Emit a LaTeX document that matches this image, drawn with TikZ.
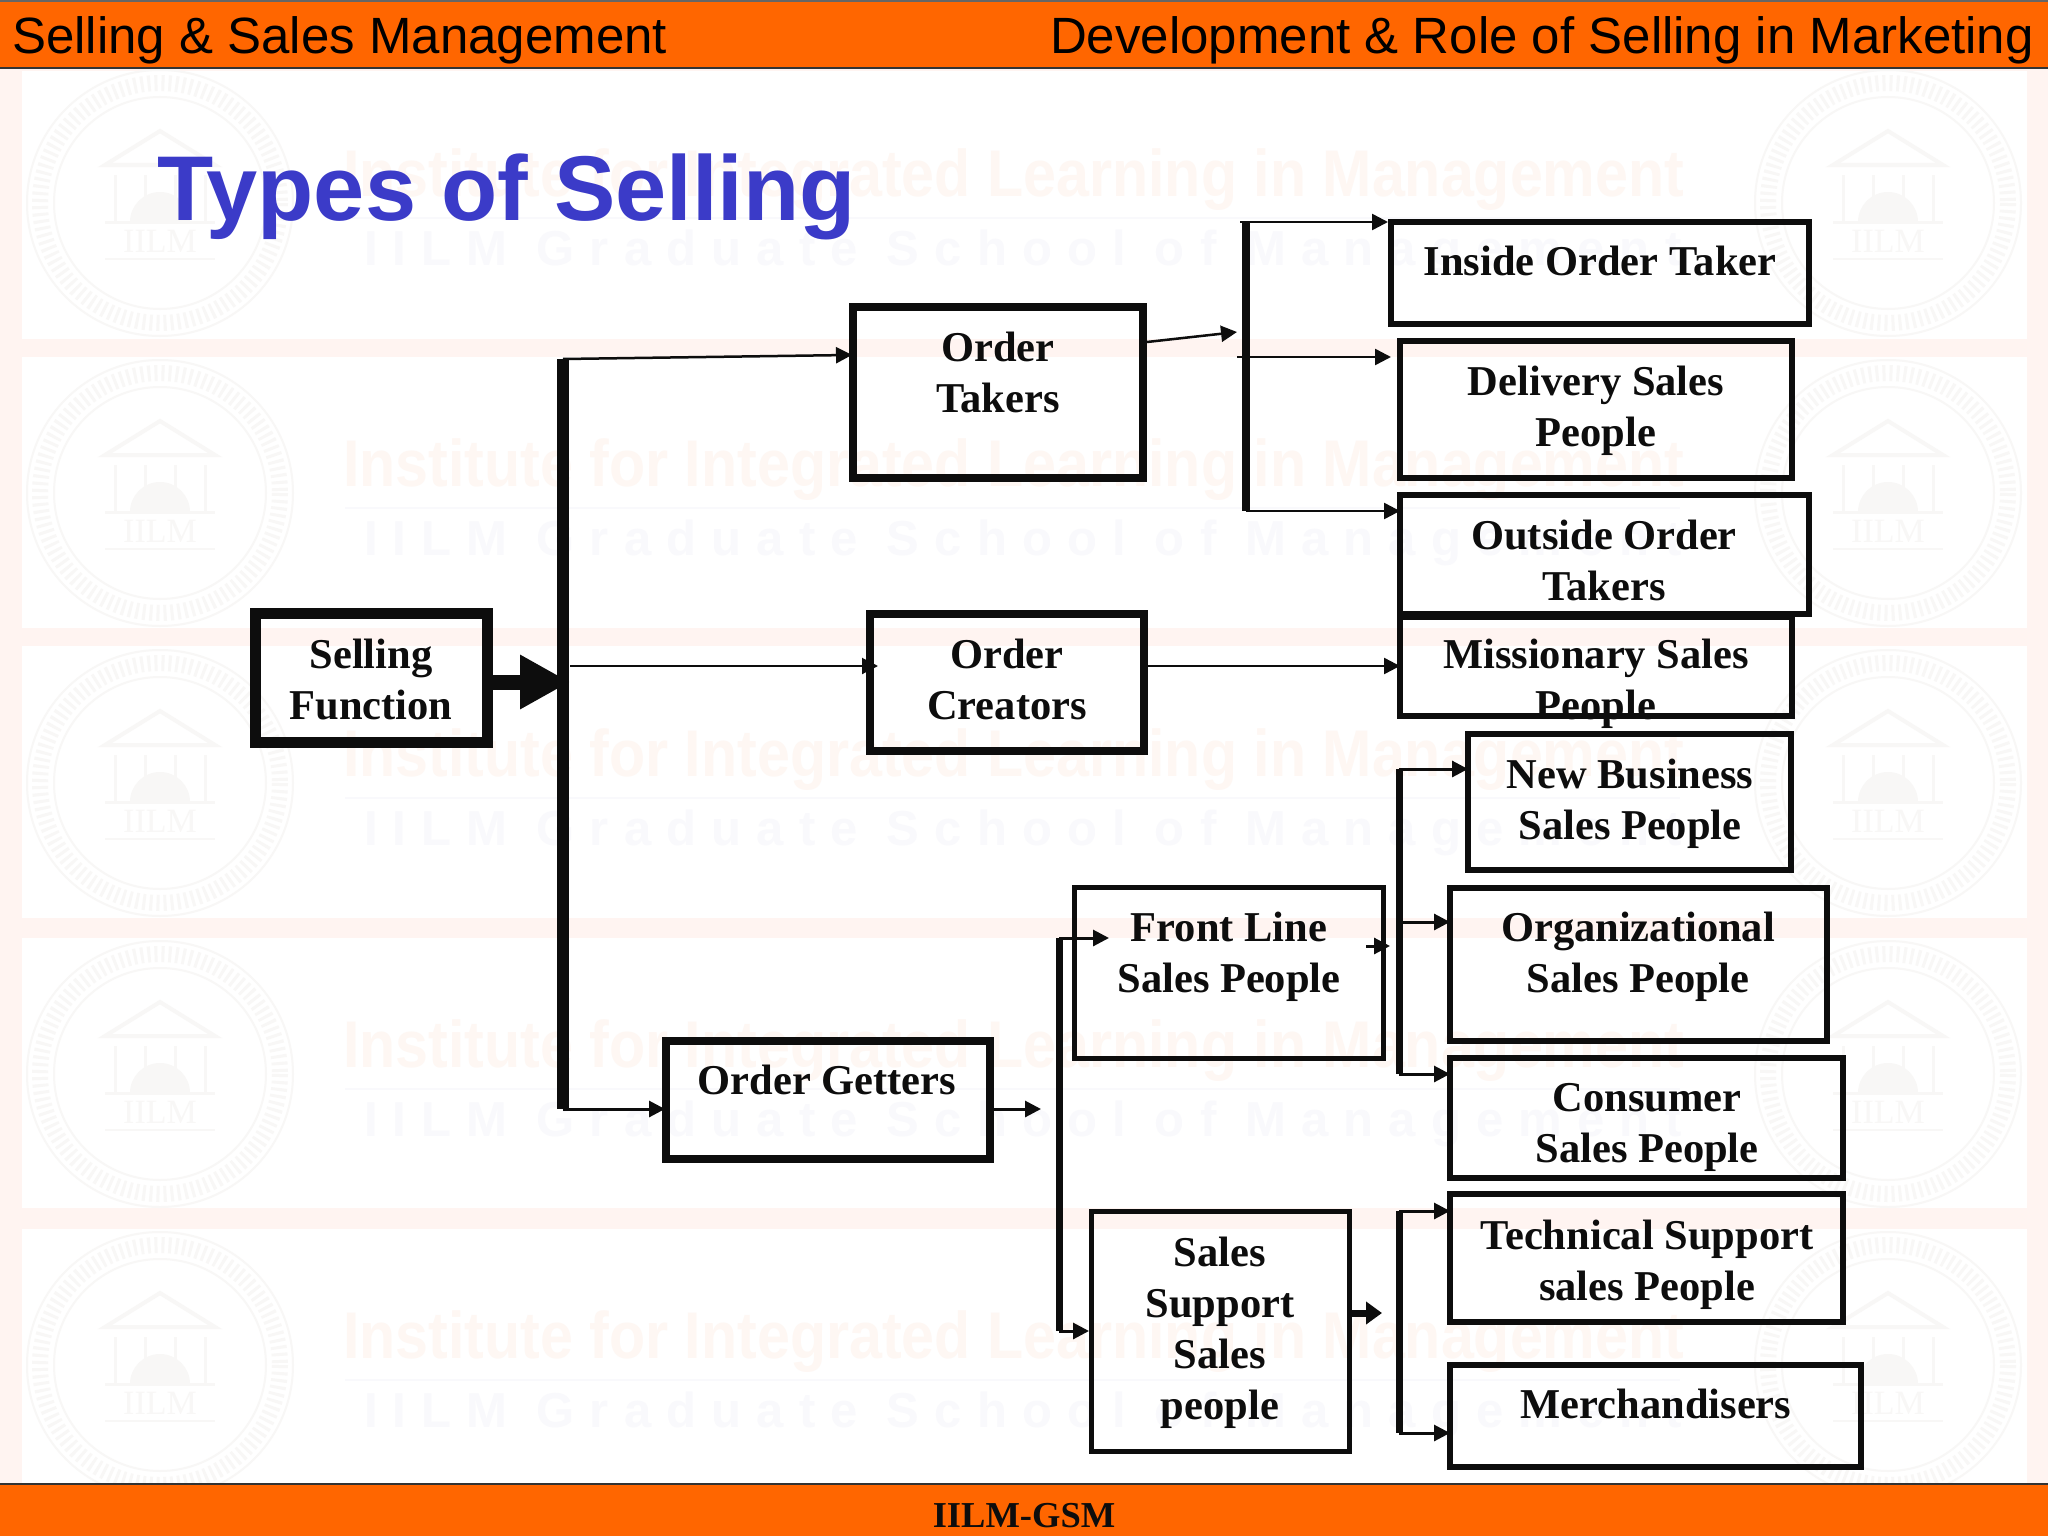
\documentclass[tikz,border=0pt]{standalone}
\usepackage{fontspec}
\usepackage{graphicx}
\setmainfont{Liberation Serif}
\newfontfamily\hdfont{Liberation Sans}
\newfontfamily\wmA{Liberation Sans}
\newfontfamily\wmB[LetterSpace=31]{Liberation Sans}
\usetikzlibrary{arrows.meta,calc}
\definecolor{bar}{HTML}{FF6600}
\definecolor{band}{HTML}{FFF4F1}
\definecolor{titleblue}{HTML}{3B3BC8}
\definecolor{wmorange}{HTML}{FEF7F3}
\definecolor{wmgrey}{HTML}{F9F9FC}
\definecolor{wmseal}{HTML}{F8F7F6}
\definecolor{ink}{HTML}{0D0D0D}
\tikzset{
  boxnode/.style={draw=ink,rectangle,inner sep=0pt,fill=none},
  boxtext/.style={align=center,text=ink,inner sep=0pt,yshift=-8pt,
    font=\fontsize{42.5}{51}\selectfont\bfseries,
    execute at begin node=\strut,execute at end node=\strut},
  arr/.style={draw=ink,line width=2.5pt,-{Triangle[length=16pt,width=16pt]}},
  arrb/.style={arr,shorten >=-3pt},
  bus/.style={draw=ink,line cap=butt},
  hdtext/.style={inner sep=0pt,text=black,font=\hdfont\fontsize{51}{60}\selectfont},
}
\newcommand{\bx}[6]{%
  \pgfmathsetmacro\bw{#4-#2-#6}\pgfmathsetmacro\bh{#5-#3-#6}%
  \node[boxnode,line width=#6pt,minimum width=\bw pt,minimum height=\bh pt] (#1) at ({(#2+#4)/2},{(#3+#5)/2}) {};}
\newcommand{\sealmark}[2]{%
  \begin{scope}[shift={(#1,#2)},draw=wmseal,fill=wmseal,text=wmseal]
    \draw[fill=none,line width=2pt] (0,0) ellipse (133 and 133);
    \draw[fill=none,line width=16pt,dash pattern=on 3pt off 4pt] (0,0) ellipse (120 and 120);
    \draw[fill=none,line width=2pt] (0,0) ellipse (106 and 106);
    \draw[fill=none,line width=4pt] (-55,-38) -- (0,-72) -- (55,-38) -- cycle;
    \draw[fill=none,line width=3pt] (-45,-28) -- (-45,19) (45,-28) -- (45,19) (-15,-28) -- (-15,19) (15,-28) -- (15,19);
    \fill (-30,19) arc (180:360:30 and 30) -- cycle;
    \draw[fill=none,line width=3pt] (-55,19) -- (55,19);
    \node[inner sep=0pt,font=\fontsize{34}{40}\selectfont] (seal#1x#2) at (0,38) {IILM};
    \draw[fill=none,line width=2pt] (-55,56) -- (55,56);
  \end{scope}}
\newcommand{\wmrow}[1]{%
  \node[anchor=base west,inner sep=0pt,text=wmorange] (wma#1) at (343,196+#1) {\resizebox{1341pt}{\height}{\wmA\fontsize{66}{70}\selectfont\bfseries Institute for Integrated Learning in Management}};
  \draw[wmgrey,line width=1.5pt] (345,218+#1) -- (1680,218+#1);
  \node[anchor=base west,inner sep=0pt,text=wmgrey] (wmb#1) at (364,265+#1) {\wmB\fontsize{49}{55}\selectfont\bfseries IILM Graduate School of Management};
  \sealmark{160}{203+#1}
  \sealmark{1888}{203+#1}}
\begin{document}
\begin{tikzpicture}[x=1pt,y=-1pt]
\useasboundingbox (0,0) rectangle (2048,1536);
% background tiles
\fill[band] (0,0) rectangle (2048,1536);
\fill[white] (22,71) rectangle (2027,339);
\fill[white] (22,357) rectangle (2027,628);
\fill[white] (22,646) rectangle (2027,918);
\fill[white] (22,938) rectangle (2027,1208);
\fill[white] (22,1229) rectangle (2027,1484);
\wmrow{0}
\wmrow{290}
\wmrow{580}
\wmrow{871}
\wmrow{1162}
% bars
\fill[bar] (0,0) rectangle (2048,68);
\fill[bar] (0,1484) rectangle (2048,1536);
\draw[black!80,line width=2pt] (0,68) -- (2048,68);
\draw[black!80,line width=2pt] (0,1484) -- (2048,1484);
\draw[black!60,line width=2pt] (0,1) -- (2048,1);
\node[hdtext,anchor=base west] (hdl) at (12,54) {Selling \& Sales Management};
\node[hdtext,anchor=base east] (hdr) at (2034,54) {Development \& Role of Selling in Marketing};
\node[anchor=base west,inner sep=0pt,text=titleblue,font=\hdfont\fontsize{92}{100}\selectfont\bfseries] (title) at (157,220) {Types of Selling};
\node[anchor=base,inner sep=0pt,text=ink,font=\fontsize{36.5}{40}\selectfont\bfseries] (foot) at (1024,1527) {IILM-GSM};
% boxes
\bx{sf}{250}{608}{493}{748}{11}
\bx{ot}{849}{303}{1147}{482}{8}
\bx{oc}{866}{610}{1148}{755}{8}
\bx{og}{662}{1037}{994}{1163}{8}
\bx{iot}{1388}{219}{1812}{327}{6}
\bx{del}{1397}{338}{1795}{481}{6}
\bx{out}{1397}{492}{1812}{617}{6}
\bx{mis}{1397}{614}{1795}{719}{6}
\bx{nb}{1465}{731}{1794}{873}{6}
\bx{fl}{1072}{885}{1386}{1061}{5}
\bx{org}{1447}{885}{1830}{1044}{6}
\bx{con}{1447}{1055}{1846}{1181}{6}
\bx{tec}{1447}{1191}{1846}{1325}{6}
\bx{mer}{1447}{1362}{1864}{1470}{6}
\bx{ss}{1089}{1209}{1352}{1454}{5}
% labels
\node[boxtext] (sft) at (371,679) {Selling\\Function};
\node[boxtext] (ott) at (998,372) {Order\\Takers};
\node[boxtext] (oct) at (1007,679) {Order\\Creators};
\node[boxtext] (ogt) at (827,1076) {Order Getters};
\node[boxtext] (iott) at (1600,257) {Inside Order Taker};
\node[boxtext] (delt) at (1596,405.5) {Delivery Sales\\People};
\node[boxtext] (outt) at (1604,560) {Outside Order\\Takers};
\node[boxtext] (mist) at (1596,679) {Missionary Sales\\People};
\node[boxtext] (nbt) at (1630,799) {New Business\\Sales People};
\node[boxtext] (flt) at (1229,952) {Front Line\\Sales People};
\node[boxtext] (orgt) at (1638,952) {Organizational\\Sales People};
\node[boxtext] (cont) at (1647,1122.5) {Consumer\\Sales People};
\node[boxtext] (tect) at (1647,1260) {Technical Support\\sales People};
\node[boxtext] (mert) at (1656,1400) {Merchandisers};
\node[boxtext] (sst) at (1220,1327.6) {Sales\\Support\\Sales\\people};
% bus coordinates
\coordinate (m1) at (563,359);
\coordinate (m2) at (563,1109);
\coordinate (mm) at (570,666);
\coordinate (mb) at (570,682);
\coordinate (g1) at (1059,938);
\coordinate (g2) at (1059,1331);
\coordinate (gin) at (1041,1109);
\coordinate (t1) at (1246,222);
\coordinate (t2) at (1246,511);
\coordinate (tm) at (1237,357);
\coordinate (tin) at (1237,332);
\coordinate (ts) at (1147,342);
\coordinate (f1) at (1399,769);
\coordinate (f2) at (1399,1074);
\coordinate (fm) at (1399,922);
\coordinate (fin0) at (1366,946);
\coordinate (fin1) at (1390,946);
\coordinate (s1) at (1399,1211);
\coordinate (s2) at (1399,1433);
\coordinate (sin) at (1382,1313);
\coordinate (flin) at (1109,938);
% buses
\draw[bus,line width=12pt] (m1) -- (m2);
\draw[bus,line width=7pt] (g1) -- (g2);
\draw[bus,line width=8pt] (t1) -- (t2);
\draw[bus,line width=7pt] (f1) -- (f2);
\draw[bus,line width=7pt] (s1) -- (s2);
% connectors
\draw[draw=ink,line width=15pt,-{Triangle[length=50pt,width=51pt]}] (sf.east |- mb) -- (mb);
\draw[arrb] (m1) -- (ot.west |- 0,355);
\draw[arr,line width=2pt] (mm) -- ($(oc.west |- mm)+(12,0)$);
\draw[arrb,line width=3pt] (m2) -- (og.west |- m2);
\draw[arr,line width=3pt] (og.east |- m2) -- (gin);
\draw[arr,line width=3pt] (g1) -- (flin);
\draw[arr,line width=3pt] (g2) -- (ss.west |- g2);
\draw[arr,line width=2.5pt] (ts) -- (tin);
\draw[arr] ($(t1)+(-6,0)$) -- (iot.west |- t1);
\draw[arr] (tm) -- ($(del.west |- tm)+(-6,0)$);
\draw[arrb] (t2) -- (out.west |- t2);
\draw[arrb] (oc.east |- mm) -- (mis.west |- mm);
\draw[arrb,line width=3pt] (f1) -- (nb.west |- f1);
\draw[arrb,line width=3pt] (fm) -- (org.west |- fm);
\draw[arrb,line width=3pt] (f2) -- (con.west |- f2);
\draw[arr,line width=3pt] (fin0) -- (fin1);
\draw[arrb,line width=3pt] (s1) -- (tec.west |- s1);
\draw[arrb,line width=3pt] (s2) -- (mer.west |- s2);
\draw[draw=ink,line width=7pt,-{Triangle[length=16pt,width=22pt]}] (ss.east |- sin) -- (sin);
\end{tikzpicture}
\end{document}
